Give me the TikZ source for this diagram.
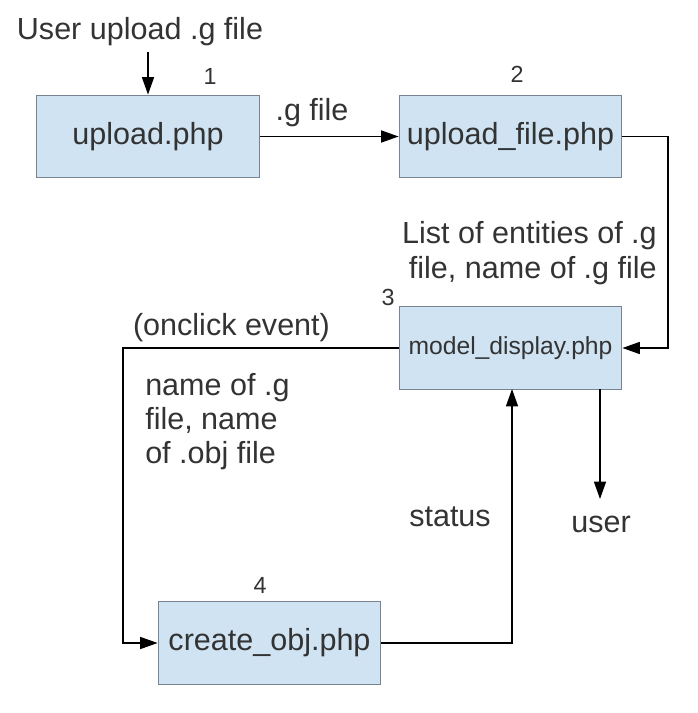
\documentclass[tikz,border=0pt]{standalone}
\usepackage{fontspec}
\setmainfont{Liberation Sans}
\usetikzlibrary{arrows.meta}
\definecolor{boxfill}{RGB}{207,227,242}
\definecolor{boxline}{RGB}{120,132,145}
\definecolor{txt}{RGB}{51,51,51}
\tikzset{
  box/.style={draw=boxline, line width=0.9pt, fill=boxfill, minimum width=167pt, minimum height=62pt, inner sep=0pt, text=txt, font=\fontsize{22.9}{26}\selectfont},
  lbl/.style={text=txt, font=\fontsize{22.9}{26}\selectfont, inner sep=0pt, anchor=base},
  num/.style={text=txt, font=\fontsize{17.5}{20}\selectfont, inner sep=0pt, anchor=base},
  arr/.style={draw=black, line width=1pt, -{Triangle[length=13pt,width=9pt]}},
  ln/.style={draw=black, line width=1pt},
}
\begin{document}
\begin{tikzpicture}[x=0.75pt,y=-0.75pt]
\useasboundingbox (0,0) rectangle (697,713);
% boxes
\node[box] (b1) at (148,136.5) {upload.php};
\node[box] (b2) at (510.5,136.5) {upload\_file.php};
\node[box, font=\fontsize{18.5}{22}\selectfont] (b3) at (510.5,348) {model\_display.php};
\node[box] (b4) at (269.5,643) {create\_obj.php};
% labels
\node[lbl] (tuser) at (140,40) {User upload .g file};
\node[num] (n1) at (210,85) {1};
\node[num] (n2) at (517,83) {2};
\node[num] (n3) at (388,305) {3};
\node[num] (n4) at (260,593) {4};
\node[lbl] (tg) at (312,121) {.g file};
\node[lbl, align=right, anchor=base east] (tlist) at (657,278) {List of entities of .g\\file, name of .g file};
\node[lbl] (tclick) at (231.5,335) {(onclick event)};
\node[lbl, align=left, anchor=base west, font=\fontsize{22.9}{25.5}\selectfont] (tname) at (145,463) {name of .g\\file, name\\of .obj file};
\node[lbl] (tstatus) at (450,526) {status};
\node[lbl] (tu) at (601,532) {user};
% coordinates
\coordinate (s0) at (148,52);
\coordinate (r1) at (668,136.5);
\coordinate (l1) at (123,348);
\coordinate (u0) at (600,389);
\coordinate (u1) at (600,499);
\coordinate (up) at (512,389);
% connectors
\draw[arr] (s0) -- (b1.north);
\draw[arr] (b1.east) -- (b2.west);
\draw[arr] (b2.east) -- (r1) |- (b3.east);
\draw[arr] (b3.west) -- (l1) |- (b4.west);
\draw[arr] (b4.east) -| (up);
\draw[arr] (u0) -- (u1);
\end{tikzpicture}
\end{document}
